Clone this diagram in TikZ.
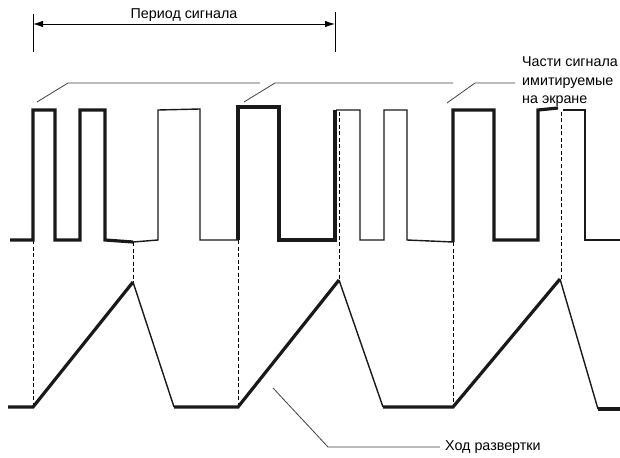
\documentclass[tikz,border=0pt]{standalone}
\usepackage{fontspec}
\setmainfont{Liberation Sans}
\usetikzlibrary{arrows.meta}
\begin{document}
\begin{tikzpicture}[x=1pt,y=-1pt,
  thk/.style={line width=3.2pt,line join=miter,black!90},
  thn/.style={line width=1.4pt,line join=miter,black!90},
  guide/.style={line width=0.9pt,dashed,dash pattern=on 4pt off 2.5pt},
  lead/.style={line width=0.8pt,black!75},
  lbl/.style={font=\fontsize{14.3}{18.5}\selectfont,inner sep=0pt}]
\useasboundingbox (0,0) rectangle (620,457);
% --- period dimension ---
\node[lbl] (period) at (184,15) {Период сигнала};
\coordinate (pL) at (33,24);
\coordinate (pR) at (335,24);
\draw[line width=0.9pt] (33,14) -- (33,52);
\draw[line width=0.9pt] (335,12) -- (335,52);
\draw[line width=0.9pt,{Latex[length=10pt,width=6.5pt]}-{Latex[length=10pt,width=6.5pt]}] (pL) -- (pR);
% --- label for displayed parts ---
\node[lbl,anchor=west,align=left] (parts) at (522,82) {Части сигнала\\имитируемые\\на экране};
\coordinate (b1) at (37,102);
\coordinate (b2) at (244,102);
\coordinate (b3) at (447,103);
\draw[lead] (b1) -- (68,83) -- (260,83);
\draw[lead] (b2) -- (275,83) -- (453,83);
\draw[lead] (b3) -- (475,83) -- ([xshift=-7pt]parts.west |- 0,83);
% --- guide lines ---
\draw[guide] (33,240) -- (33,407);
\draw[guide] (133,242) -- (133,282);
\draw[guide] (238,240) -- (238,406);
\draw[guide] (339,112) -- (339,280);
\draw[guide] (453,242) -- (453,406);
\draw[guide] (561,112) -- (561,279);
% --- signal ---
\draw[thk] (10,240) -- (33,240) -- (33,110) -- (55,110) -- (55,240) -- (80,240) -- (80,110) -- (105,110) -- (105,240) -- (133,242);
\draw[thn] (133,242) -- (158,240) -- (158,110) -- (200,109) -- (200,240) -- (238,240);
\draw[thk] (238,240) -- (238,107) -- (279,107) -- (279,240) -- (335,240) -- (335,110);
\draw[thn] (336,110) -- (360,110) -- (360,240) -- (384,240) -- (384,110) -- (407,110) -- (407,240) -- (453,242);
\draw[thk] (453,242) -- (453,110) -- (494,110) -- (494,240) -- (538,240) -- (538,110) -- (558,108);
\draw[thn] (563,110) -- (585,110) -- (585,240) -- (620,240);
% --- sweep ---
\draw[thk] (8,407) -- (33,407) -- (133,282);
\draw[thn] (133,282) -- (174,407);
\draw[thk] (174,407) -- (238,407) -- (339,280);
\draw[thn] (339,280) -- (383,407);
\draw[thk] (383,407) -- (453,407) -- (560,279);
\draw[thn] (560,279) -- (598,409);
\draw[thk] (598,409) -- (620,409);
% --- sweep label ---
\node[lbl,anchor=west] (sweep) at (445,447) {Ход развертки};
\coordinate (s1) at (273,388);
\draw[lead] (s1) -- (328,447) -- ([xshift=-5pt]sweep.west);
\end{tikzpicture}
\end{document}
